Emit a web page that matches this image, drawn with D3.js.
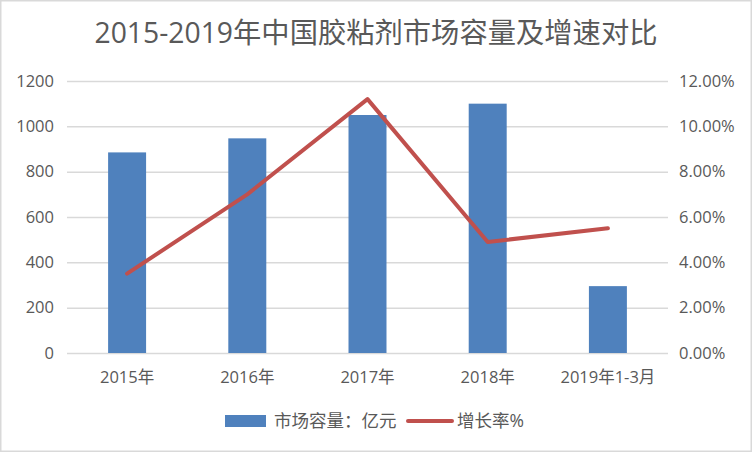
<!DOCTYPE html>
<html>
<head>
<meta charset="utf-8">
<script src="https://cdn.jsdelivr.net/npm/d3@7"></script>
<style>
  body { margin: 0; background: #fff; }
  svg { display: block; }
</style>
</head>
<body>
<div id="chart"></div>
<script>
const categories = ["2015年", "2016年", "2017年", "2018年", "2019年1-3月"];
const capacity = [885, 947, 1050, 1100, 295];
const growth = [0.035, 0.07, 0.112, 0.049, 0.055];
const leftTicks = [0, 200, 400, 600, 800, 1000, 1200];
const rightTicks = [0, 0.02, 0.04, 0.06, 0.08, 0.10, 0.12];

const fontFamily = '"Open Sans", "Noto Sans CJK SC", sans-serif';
const textColor = "#595959";

const width = 752, height = 452;
const margin = { top: 81, right: 84, bottom: 99, left: 67 };
const innerWidth = width - margin.left - margin.right;
const innerHeight = height - margin.top - margin.bottom;

const svg = d3.select("#chart").append("svg")
  .attr("width", width)
  .attr("height", height)
  .attr("font-family", fontFamily);

svg.append("rect")
  .attr("x", 0.75).attr("y", 0.75)
  .attr("width", width - 1.5).attr("height", height - 1.5)
  .attr("fill", "#fff")
  .attr("stroke", "#d9d9d9")
  .attr("stroke-width", 1.5);

svg.append("text")
  .attr("x", width / 2)
  .attr("y", 43)
  .attr("text-anchor", "middle")
  .attr("fill", textColor)
  .attr("font-size", 28.3)
  .text("2015-2019年中国胶粘剂市场容量及增速对比");

const g = svg.append("g").attr("transform", `translate(${margin.left},${margin.top})`);

const x = d3.scaleBand().domain(categories).range([0, innerWidth]).padding(0);
const yL = d3.scaleLinear().domain([0, 1200]).range([innerHeight, 0]);
const yR = d3.scaleLinear().domain([0, 0.12]).range([innerHeight, 0]);

// axis text styling: drop domain/tick lines, set font
function styleAxis(sel) {
  sel.attr("font-family", fontFamily).attr("font-size", 16.5);
  sel.select(".domain").remove();
  sel.selectAll(".tick line").remove();
  sel.selectAll(".tick text").attr("fill", textColor);
}

const grid = g.append("g")
  .call(d3.axisLeft(yL).tickValues(leftTicks).tickSize(-innerWidth).tickFormat(""));
grid.select(".domain").remove();
grid.selectAll(".tick line").attr("stroke", "#d9d9d9").attr("stroke-width", 1.5);

g.append("g")
  .attr("transform", "translate(-10,0)")
  .call(d3.axisLeft(yL).tickValues(leftTicks).tickSize(0).tickFormat(d3.format("d")))
  .call(styleAxis);

g.append("g")
  .attr("transform", `translate(${innerWidth + 8},0)`)
  .call(d3.axisRight(yR).tickValues(rightTicks).tickSize(0).tickFormat(d3.format(".2%")))
  .call(styleAxis);

g.append("g")
  .attr("transform", `translate(0,${innerHeight + 15})`)
  .call(d3.axisBottom(x).tickSize(0))
  .call(styleAxis);

const barW = x.bandwidth() * 0.316;
g.selectAll(".bar")
  .data(categories)
  .join("rect")
  .attr("class", "bar")
  .attr("x", (d) => x(d) + x.bandwidth() / 2 - barW / 2)
  .attr("y", (d, i) => yL(capacity[i]))
  .attr("width", barW)
  .attr("height", (d, i) => innerHeight - yL(capacity[i]))
  .attr("fill", "#4f81bd");

const line = d3.line()
  .x((d, i) => x(categories[i]) + x.bandwidth() / 2)
  .y((d) => yR(d));

g.append("path")
  .datum(growth)
  .attr("d", line)
  .attr("fill", "none")
  .attr("stroke", "#c0504d")
  .attr("stroke-width", 4)
  .attr("stroke-linejoin", "round")
  .attr("stroke-linecap", "round");

// legend
const legend = svg.append("g").attr("transform", "translate(225,421)");
legend.append("rect")
  .attr("x", 0).attr("y", -6)
  .attr("width", 41).attr("height", 12)
  .attr("fill", "#4f81bd");
legend.append("text")
  .attr("x", 49).attr("y", 6)
  .attr("fill", textColor)
  .attr("font-size", 17.5)
  .text("市场容量：亿元");
legend.append("line")
  .attr("x1", 408 - 225).attr("x2", 452 - 225)
  .attr("y1", 0).attr("y2", 0)
  .attr("stroke", "#c0504d")
  .attr("stroke-width", 4)
  .attr("stroke-linecap", "round");
legend.append("text")
  .attr("x", 457 - 225).attr("y", 6)
  .attr("fill", textColor)
  .attr("font-size", 17.5)
  .text("增长率%");
</script>
</body>
</html>
